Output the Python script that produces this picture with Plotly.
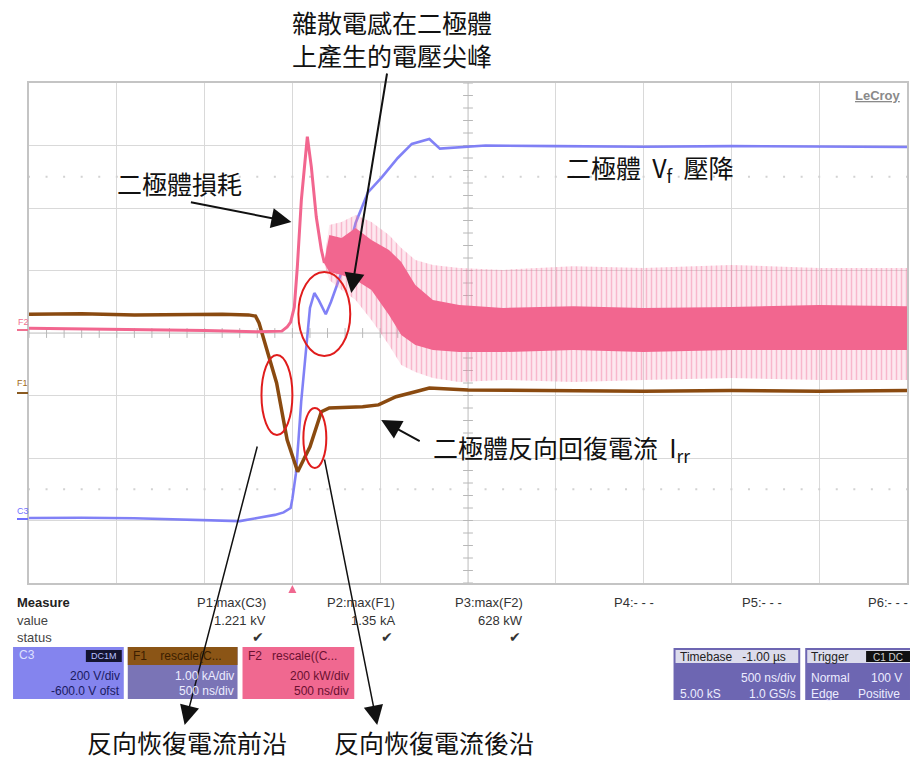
import plotly.graph_objects as go

# ---------------- data (time in microseconds) ----------------
# C3 : diode voltage (V), 200 V/div, -600 V offset
c3_t = [-1.50, -1.20, -0.90, -0.65, -0.45, -0.30, -0.20, -0.10, -0.05, -0.01,
        0.00, 0.01, 0.02, 0.035, 0.05, 0.07, 0.085, 0.10, 0.125, 0.15,
        0.19, 0.22, 0.25, 0.31, 0.36, 0.43, 0.51, 0.60, 0.68, 0.78,
        0.84, 0.95, 1.10, 1.50, 2.00, 2.50, 3.00, 3.50]
c3_v = [8, 9, 7, 4, 0, -2, 8, 18, 26, 40,
        70, 110, 150, 260, 380, 500, 600, 680, 728, 705,
        660, 700, 747, 843, 952, 1050, 1099, 1160, 1205, 1221,
        1190, 1195, 1200, 1198, 1196, 1198, 1196, 1195]

# F1 : diode current (kA), 1.00 kA/div
f1_t = [-1.50, -1.20, -0.90, -0.60, -0.40, -0.25, -0.21, -0.19, -0.09, -0.03,
        0.03, 0.10, 0.165, 0.21, 0.30, 0.40, 0.49, 0.59, 0.70, 0.78,
        1.00, 1.50, 2.00, 2.50, 3.00, 3.50]
f1_i = [1.30, 1.31, 1.29, 1.30, 1.30, 1.29, 1.27, 1.16, 0.20, -0.71,
        -1.22, -0.82, -0.26, -0.20, -0.19, -0.18, -0.15, -0.02, 0.06, 0.12,
        0.09, 0.08, 0.07, 0.08, 0.07, 0.08]

# F2 : diode power (kW), 200 kW/div -- clean part
f2_t = [-1.50, -1.00, -0.50, -0.20, -0.06, -0.03, -0.01, 0.011, 0.028, 0.051,
        0.068, 0.085, 0.108, 0.136, 0.165, 0.182]
f2_p = [15, 12, 8, 4, 6, 19, 35, 83, 211, 426,
        531, 628, 531, 371, 266, 224]

# F2 noisy part: envelopes (kW)
f2n_t = [0.18, 0.21, 0.28, 0.36, 0.45, 0.55, 0.62, 0.70, 0.80, 0.95,
         1.20, 1.60, 2.00, 2.50, 3.00, 3.50]
f2n_core_hi = [224, 314, 304, 336, 298, 266, 227, 154, 106, 90,
               80, 86, 80, 83, 90, 86]
f2n_core_lo = [224, 195, 186, 170, 138, 58, -6, -38, -54, -61,
               -61, -54, -61, -54, -54, -54]
f2n_spike_hi = [224, 346, 355, 378, 355, 314, 272, 234, 218, 208,
                202, 214, 208, 218, 208, 208]
f2n_spike_lo = [224, 170, 138, 106, 42, -38, -102, -125, -144, -157,
                -150, -157, -150, -144, -150, -150]

# measurement read-outs
meas_names = ["P1:max(C3)", "P2:max(F1)", "P3:max(F2)"]
meas_values = ["1.221 kV", "1.35 kA", "628 kW"]
empty_meas = ["P4:- - -", "P5:- - -", "P6:- - -"]

# ---------------- geometry helpers ----------------
W, H = 910, 760
ML, MR, MT, MB = 29, 1, 83, 177
PW, PH = W - ML - MR, H - MT - MB


def xp(x):
    return (x - ML) / PW


def yp(y):
    return (H - MB - y) / PH


PINK = '#f2668f'
BROWN = '#8a4a10'
BLUE = 'rgba(118,118,245,0.92)'
CJK = 'Noto Sans CJK TC'
SANS = 'Liberation Sans, Arial'

fig = go.Figure()
skip = dict(hoverinfo='skip', showlegend=False)

# grid decorations: centre ticks and dotted rows
ct_v = [-200 + 40 * k for k in range(41)]
ct_t = [-1.5 + 0.1 * k for k in range(51)]
fig.add_trace(go.Scatter(x=[1.0] * len(ct_v), y=ct_v, mode='markers',
                         marker=dict(symbol='line-ew', size=7, line=dict(width=1, color='#b8b8b8')), **skip))
fig.add_trace(go.Scatter(x=ct_t, y=[600] * len(ct_t), mode='markers',
                         marker=dict(symbol='line-ns', size=7, line=dict(width=1, color='#b8b8b8')), **skip))
for lev in (100, 1100):
    fig.add_trace(go.Scatter(x=ct_t, y=[lev] * len(ct_t), mode='markers',
                             marker=dict(symbol='square', size=2, color='#d2d2d2'), **skip))

# F2 noise: spike haze + pattern
fig.add_trace(go.Scatter(x=f2n_t, y=f2n_spike_lo, yaxis='y3', mode='lines', line=dict(width=0), **skip))
fig.add_trace(go.Scatter(x=f2n_t, y=f2n_spike_hi, yaxis='y3', mode='lines', line=dict(width=0),
                         fill='tonexty', fillcolor='rgba(246,150,182,0.22)', **skip))
fig.add_trace(go.Scatter(x=f2n_t, y=f2n_spike_lo, yaxis='y3', mode='lines', line=dict(width=0), **skip))
fig.add_trace(go.Scatter(x=f2n_t, y=f2n_spike_hi, yaxis='y3', mode='lines', line=dict(width=0),
                         fill='tonexty', fillcolor='rgba(0,0,0,0)',
                         fillpattern=dict(shape='|', size=5, solidity=0.3,
                                          fgcolor='rgba(240,100,145,0.75)', bgcolor='rgba(0,0,0,0)'),
                         **skip))
# F2 noise core
fig.add_trace(go.Scatter(x=f2n_t, y=f2n_core_lo, yaxis='y3', mode='lines', line=dict(width=0), **skip))
fig.add_trace(go.Scatter(x=f2n_t, y=f2n_core_hi, yaxis='y3', mode='lines', line=dict(width=0),
                         fill='tonexty', fillcolor=PINK, **skip))
# F2 clean
fig.add_trace(go.Scatter(x=f2_t, y=f2_p, yaxis='y3', mode='lines', line=dict(color=PINK, width=3), **skip))
# F1
fig.add_trace(go.Scatter(x=f1_t, y=f1_i, yaxis='y2', mode='lines', line=dict(color=BROWN, width=3.5), **skip))
# C3
fig.add_trace(go.Scatter(x=c3_t, y=c3_v, yaxis='y', mode='lines', line=dict(color=BLUE, width=2.6), **skip))

shapes = []
# centre lines
shapes.append(dict(type='line', xref='x', yref='y', x0=1.0, x1=1.0, y0=-200, y1=1400,
                   line=dict(color='#c4c4c4', width=1), layer='below'))
shapes.append(dict(type='line', xref='x', yref='y', x0=-1.5, x1=3.5, y0=600, y1=600,
                   line=dict(color='#c4c4c4', width=1), layer='below'))


def ell(x0, y0, x1, y1):
    shapes.append(dict(type='circle', xref='paper', yref='paper', x0=xp(x0), x1=xp(x1),
                       y0=yp(y1), y1=yp(y0), line=dict(color='#e01c1c', width=2)))


ell(299, 272, 351, 356)
ell(262, 355, 293, 435)
ell(304, 408, 327, 468)


def rect(x0, y0, x1, y1, color):
    shapes.append(dict(type='rect', xref='paper', yref='paper', x0=xp(x0), x1=xp(x1),
                       y0=yp(y1), y1=yp(y0), fillcolor=color, line=dict(width=0)))


def hline(x0, x1, y, color, w=2):
    shapes.append(dict(type='line', xref='paper', yref='paper', x0=xp(x0), x1=xp(x1),
                       y0=yp(y), y1=yp(y), line=dict(color=color, width=w)))


# channel markers on the left
hline(17, 28, 330, '#f07090')
hline(17, 28, 393, '#8a5a20')
hline(17, 28, 519, '#7070ff')

# trigger marker
shapes.append(dict(type='path', xref='paper', yref='paper',
                   path='M {a},{b} L {c},{b} L {d},{e} Z'.format(a=xp(289), b=yp(593), c=xp(297), d=xp(293), e=yp(585)),
                   fillcolor='#f06890', line=dict(width=0)))

# channel boxes
rect(13, 647, 124, 699, '#8484ee')
rect(86, 650, 122, 662, '#141430')
rect(128, 647, 238, 699, '#7a74b6')
rect(128, 647, 238, 665, '#8b5516')
rect(243, 647, 355, 699, '#f06890')
rect(675, 648, 802, 700, '#6d66b2')
rect(677, 650, 800, 663, '#dcdcec')
rect(807, 648, 912, 700, '#6d66b2')
rect(809, 650, 912, 663, '#dcdcec')
rect(868, 651, 912, 662, '#111111')

ann = []


def txt(x, y, s, size=12, color='#222', anchor='left', family=SANS):
    ann.append(dict(x=xp(x), y=yp(y), xref='paper', yref='paper', text=s, showarrow=False,
                    xanchor=anchor, yanchor='middle', font=dict(size=size, color=color, family=family)))


def arrow(tx, ty, hx, hy, w=2, size=2.0):
    ann.append(dict(x=xp(hx), y=yp(hy), xref='paper', yref='paper', text='', showarrow=True,
                    ax=tx - hx, ay=ty - hy, axref='pixel', ayref='pixel',
                    arrowhead=2, arrowsize=size, arrowwidth=w, arrowcolor='#111'))


# Chinese annotations
txt(393, 22, '雜散電感在二極體', 25, '#111', 'center', CJK)
txt(393, 55, '上產生的電壓尖峰', 25, '#111', 'center', CJK)
txt(115, 183, '二極體損耗', 25, '#111', 'left', CJK)
txt(565, 168, '二極體\u00a0\u00a0V<sub>f</sub>\u00a0\u00a0壓降', 25, '#111', 'left', CJK)
txt(432, 448, '二極體反向回復電流\u00a0\u00a0I<sub>rr</sub>', 25, '#111', 'left', CJK)
txt(85, 742, '反向恢復電流前沿', 25, '#111', 'left', CJK)
txt(333, 742, '反向恢復電流後沿', 25, '#111', 'left', CJK)

arrow(190, 202, 292, 222)
arrow(388, 72, 352, 293)
arrow(422, 442, 382, 420)
arrow(258, 445, 185, 725, w=1.5, size=2.6)
arrow(325, 458, 378, 725, w=1.5, size=2.6)

# logo and channel labels
txt(905, 95, '<b><u>LeCroy</u></b>', 13, '#8a8a8a', 'right')
txt(16, 322, 'F2', 9, '#f07090')
txt(15, 383, 'F1', 9, '#a06a20')
txt(15, 511, 'C3', 9, '#7070ff')

# measure table
txt(15, 602, '<b>Measure</b>', 13, '#222')
txt(15, 620, 'value', 13, '#444')
txt(15, 637, 'status', 13, '#444')
for name, val, xr in zip(meas_names, meas_values, [269, 398, 526]):
    txt(xr, 602, name, 13, '#333', 'right')
    txt(xr, 620, val, 13, '#333', 'right')
    txt(xr - 2, 637, '✔', 14, '#333', 'right', 'DejaVu Sans')
for name, xl in zip(empty_meas, [613, 742, 868]):
    txt(xl, 602, name, 13, '#333', 'left')

# C3 box
txt(17, 655, 'C3', 12, '#dde0ff')
txt(104, 656, 'DC1M', 9, '#b8c0ff', 'center')
txt(122, 676, '200 V/div', 12, '#1a1a60', 'right')
txt(122, 691, '-600.0 V ofst', 12, '#1a1a60', 'right')
# F1 box
txt(131, 656, 'F1    rescale(C...', 12, '#3c1e00')
txt(236, 676, '1.00 kA/div', 12, '#ececff', 'right')
txt(236, 691, '500 ns/div', 12, '#ececff', 'right')
# F2 box
txt(246, 656, 'F2   rescale((C...', 12, '#6a1030')
txt(352, 676, '200 kW/div', 12, '#6a1030', 'right')
txt(352, 691, '500 ns/div', 12, '#6a1030', 'right')
# Timebase box
txt(679, 657, 'Timebase   -1.00 µs', 12, '#222')
txt(800, 678, '500 ns/div', 12, '#ececff', 'right')
txt(679, 694, '5.00 kS', 12, '#ececff')
txt(800, 694, '1.0 GS/s', 12, '#ececff', 'right')
# Trigger box
txt(811, 657, 'Trigger', 12, '#222')
txt(890, 657, 'C1 DC', 10, '#d0d0d0', 'center')
txt(811, 678, 'Normal', 12, '#ececff')
txt(906, 678, '100 V', 12, '#ececff', 'right')
txt(811, 694, 'Edge', 12, '#ececff')
txt(858, 694, 'Positive', 12, '#ececff')

axis_common = dict(showgrid=True, gridcolor='#d9d9d9', gridwidth=1, zeroline=False,
                   showticklabels=False, ticks='', showline=True, linecolor='#c4c4c4',
                   linewidth=2, mirror=True, fixedrange=True)

fig.update_layout(
    width=W, height=H, autosize=False,
    margin=dict(l=ML, r=MR, t=MT, b=MB, pad=0),
    paper_bgcolor='white', plot_bgcolor='white', showlegend=False,
    xaxis=dict(range=[-1.5, 3.5], tick0=-1.5, dtick=0.5, **axis_common),
    yaxis=dict(range=[-200, 1400], tick0=0, dtick=200, **axis_common),
    yaxis2=dict(range=[-3, 5], overlaying='y', visible=False, fixedrange=True),
    yaxis3=dict(range=[-800, 800], overlaying='y', visible=False, fixedrange=True),
    shapes=shapes, annotations=ann,
)

fig.write_html('out.html', config={'displayModeBar': False},
               post_script="document.body.style.margin='0';document.body.style.overflow='hidden';")
